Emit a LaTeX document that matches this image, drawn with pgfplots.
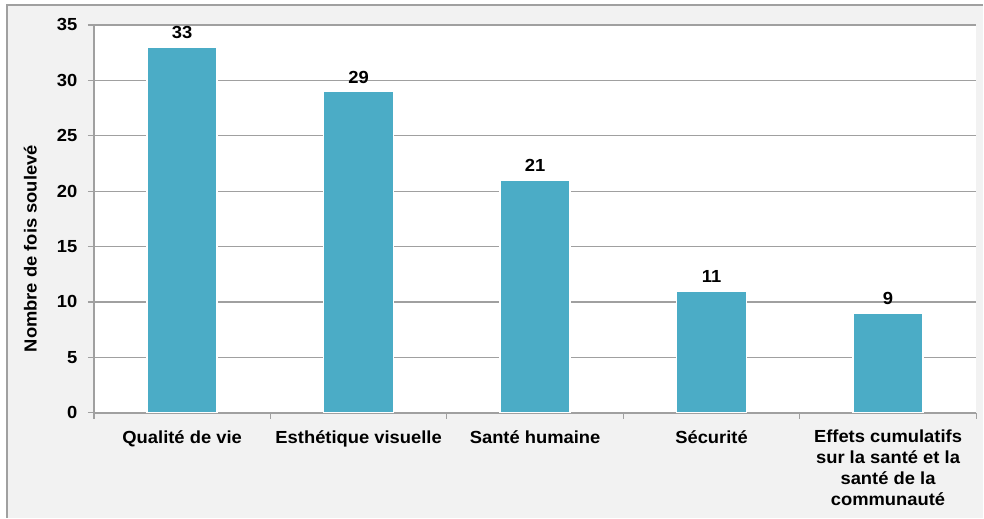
\documentclass[border=0pt]{standalone}
\usepackage{fontspec}
\setmainfont[FakeStretch=1.05]{Liberation Sans}
\usepackage{pgfplots}
\pgfplotsset{compat=1.18}
\usetikzlibrary{backgrounds}
\definecolor{bg}{HTML}{F2F2F2}
\definecolor{barc}{HTML}{4BACC6}
\definecolor{gridc}{HTML}{A0A0A0}
\newcommand{\lbl}{\fontsize{17.5}{21}\selectfont\bfseries}
\begin{document}
\begin{tikzpicture}
\begin{axis}[
  scale only axis, width=883pt, height=388pt,
  xmin=-0.5, xmax=4.5, ymin=0, ymax=35,
  ybar, bar width=70pt,
  axis background/.style={fill=white},
  axis x line*=bottom, axis y line*=left,
  axis line style={gridc, line width=2pt},
  ytick={0,5,...,35},
  ymajorgrids,
  major grid style={gridc, line width=1.2pt},
  tick align=outside, major tick length=6pt,
  ytick style={draw=gridc, line width=1.2pt},
  xtick={0,1,2,3,4},
  xticklabels={Qualité de vie, Esthétique visuelle, Santé humaine, Sécurité, {Effets cumulatifs\\sur la santé et la\\santé de la\\communauté}},
  xtick style={draw=none},
  extra x ticks={-0.5,0.5,1.5,2.5,3.5,4.5},
  extra x tick labels={},
  extra x tick style={xtick style={draw=gridc, line width=1.2pt}},
  /pgf/number format/assume math mode=true,
  xticklabel style={font=\lbl, align=center, yshift=-8pt},
  yticklabel style={font=\lbl, xshift=-7pt},
  ylabel={Nombre de fois soulevé},
  ylabel style={font=\lbl, at={(axis description cs:-0.072,0.423)}, anchor=center},
  nodes near coords,
  every node near coord/.append style={font=\lbl, yshift=4pt, text=black},
]
\coordinate (sw) at (rel axis cs:0,0);
\addplot[fill=barc, draw=white, line width=1.5pt] coordinates {(0,33) (1,29) (2,21) (3,11) (4,9)};
\end{axis}
\begin{scope}[on background layer]
\begin{scope}[shift={(sw)}, x=1pt, y=1pt]
\fill[white] (-94,-105) rectangle (890,413);
\fill[bg] (-87,-105) rectangle (890,408);
\draw[gridc, line width=1.5pt] (-87,-105) -- (-87,408) -- (890,408);
\end{scope}
\end{scope}
\end{tikzpicture}
\end{document}
